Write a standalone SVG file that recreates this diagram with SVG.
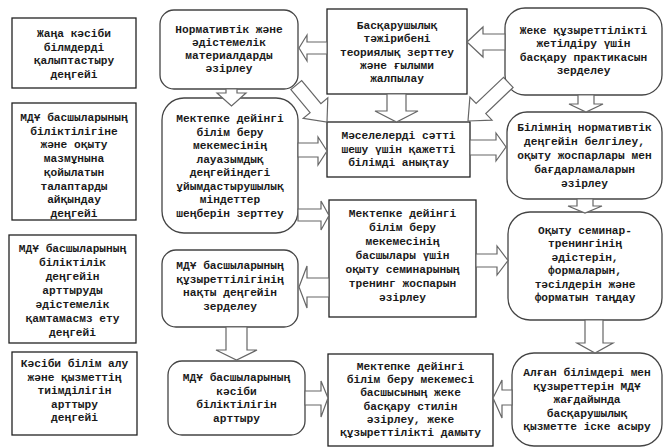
<svg xmlns="http://www.w3.org/2000/svg" width="665" height="448" viewBox="0 0 665 448">
<style>
.bg{fill:#fff}
.sq{fill:#fff;stroke:#222;stroke-width:1.3}
.rd{fill:#fff;stroke:#444;stroke-width:1.3}
.ar{fill:#fff;stroke:#666;stroke-width:1.2;stroke-linejoin:miter}
.t{font-family:"Liberation Mono","Courier New",monospace;font-size:11.2px;font-weight:bold;fill:#1a1a1a;text-anchor:middle}
</style>
<rect class="bg" x="0" y="0" width="665" height="448"/>
<g id="n1"><rect class="sq" x="12" y="18" width="124" height="70"/>
<text class="t" y="37"><tspan x="74">Жаңа кәсіби</tspan><tspan x="74" dy="13.67">білмдерді</tspan><tspan x="74" dy="13.67">қалыптастыру</tspan><tspan x="74" dy="13.67">деңгейі</tspan></text></g>
<g id="n2"><rect class="sq" x="12" y="103" width="124" height="117"/>
<text class="t" y="121"><tspan x="74">МДҰ басшыларының</tspan><tspan x="74" dy="13.71">біліктілігіне</tspan><tspan x="74" dy="13.71">және оқыту</tspan><tspan x="74" dy="13.71">мазмұнына</tspan><tspan x="74" dy="13.71">қойылатын</tspan><tspan x="74" dy="13.71">талаптарды</tspan><tspan x="74" dy="13.71">айқындау</tspan><tspan x="74" dy="13.71">деңгейі</tspan></text></g>
<g id="n3"><rect class="sq" x="9" y="235" width="127" height="108"/>
<text class="t" y="252"><tspan x="72.5">МДҰ басшыларының</tspan><tspan x="72.5" dy="14">біліктілік</tspan><tspan x="72.5" dy="14">деңгейін</tspan><tspan x="72.5" dy="14">арттыруды</tspan><tspan x="72.5" dy="14">әдістемелік</tspan><tspan x="72.5" dy="14">қамтамасмз ету</tspan><tspan x="72.5" dy="14">деңгейі</tspan></text></g>
<g id="n4"><rect class="sq" x="12" y="352" width="125" height="83"/>
<text class="t" y="367"><tspan x="74.5">Кәсіби білім алу</tspan><tspan x="74.5" dy="13.5">және қызметтің</tspan><tspan x="74.5" dy="13.5">тиімділігін</tspan><tspan x="74.5" dy="13.5">арттыру</tspan><tspan x="74.5" dy="13.5">деңгейі</tspan></text></g>
<g id="nA"><rect class="rd" x="160" y="10" width="138" height="79" rx="14"/>
<text class="t" y="33"><tspan x="229">Нормативтік және</tspan><tspan x="229" dy="13">әдістемелік</tspan><tspan x="229" dy="13">материалдарды</tspan><tspan x="229" dy="13">әзірлеу</tspan></text></g>
<g id="nB"><rect class="rd" x="162" y="98" width="136" height="135" rx="22"/>
<text class="t" y="122"><tspan x="230">Мектепке дейінгі</tspan><tspan x="230" dy="13.57">білім беру</tspan><tspan x="230" dy="13.57">мекемесінің</tspan><tspan x="230" dy="13.57">лауазымдық</tspan><tspan x="230" dy="13.57">деңгейіндегі</tspan><tspan x="230" dy="13.57">ұйымдастырушылық</tspan><tspan x="230" dy="13.57">міндеттер</tspan><tspan x="230" dy="13.57">шеңберін зерттеу</tspan></text></g>
<g id="nC"><rect class="rd" x="162" y="250" width="136" height="77" rx="14"/>
<text class="t" y="269"><tspan x="230">МДҰ басшыларының</tspan><tspan x="230" dy="13.67">құзыреттілігінің</tspan><tspan x="230" dy="13.67">нақты деңгейін</tspan><tspan x="230" dy="13.67">зерделеу</tspan></text></g>
<g id="nD"><rect class="rd" x="168" y="361" width="137" height="74" rx="14"/>
<text class="t" y="381"><tspan x="236.5">МДҰ басшыларының</tspan><tspan x="236.5" dy="13.67">кәсіби</tspan><tspan x="236.5" dy="13.67">біліктілігін</tspan><tspan x="236.5" dy="13.67">арттыру</tspan></text></g>
<g id="nE"><rect class="sq" x="327" y="9" width="140" height="85"/>
<text class="t" y="29"><tspan x="397">Басқарушылық</tspan><tspan x="397" dy="13.25">тәжірибені</tspan><tspan x="397" dy="13.25">теориялық зерттеу</tspan><tspan x="397" dy="13.25">және ғылыми</tspan><tspan x="397" dy="13.25">жалпылау</tspan></text></g>
<g id="nF"><rect class="sq" x="327" y="122" width="143" height="55"/>
<text class="t" y="139"><tspan x="398.5">Мәселелерді сәтті</tspan><tspan x="398.5" dy="13.5">шешу үшін қажетті</tspan><tspan x="398.5" dy="13.5">білімді анықтау</tspan></text></g>
<g id="nG"><rect class="sq" x="329" y="200" width="147" height="117"/>
<text class="t" y="217"><tspan x="402.5">Мектепке дейінгі</tspan><tspan x="402.5" dy="14">білім беру</tspan><tspan x="402.5" dy="14">мекемесінің</tspan><tspan x="402.5" dy="14">басшылары үшін</tspan><tspan x="402.5" dy="14">оқыту семинарының</tspan><tspan x="402.5" dy="14">тренинг жоспарын</tspan><tspan x="402.5" dy="14">әзірлеу</tspan></text></g>
<g id="nH"><rect class="sq" x="328" y="354" width="165" height="92"/>
<text class="t" y="370"><tspan x="410.5">Мектепке дейінгі</tspan><tspan x="410.5" dy="13.2">білім беру мекемесі</tspan><tspan x="410.5" dy="13.2">басшысының жеке</tspan><tspan x="410.5" dy="13.2">басқару стилін</tspan><tspan x="410.5" dy="13.2">әзірлеу, жеке</tspan><tspan x="410.5" dy="13.2">құзыреттілікті дамыту</tspan></text></g>
<g id="nI"><rect class="rd" x="505" y="8" width="157" height="87" rx="20"/>
<text class="t" y="34"><tspan x="583.5">Жеке құзыреттілікті</tspan><tspan x="583.5" dy="13.33">жетілдіру үшін</tspan><tspan x="583.5" dy="13.33">басқару практикасын</tspan><tspan x="583.5" dy="13.33">зерделеу</tspan></text></g>
<g id="nJ"><rect class="rd" x="507" y="112" width="155" height="87" rx="20"/>
<text class="t" y="131"><tspan x="584.5">Білімнің нормативтік</tspan><tspan x="584.5" dy="14">деңгейін белгілеу,</tspan><tspan x="584.5" dy="14">оқыту жоспарлары мен</tspan><tspan x="584.5" dy="14">бағдарламаларын</tspan><tspan x="584.5" dy="14">әзірлеу</tspan></text></g>
<g id="nK"><rect class="rd" x="508" y="212" width="154" height="108" rx="22"/>
<text class="t" y="234"><tspan x="585">Оқыту семинар-</tspan><tspan x="585" dy="13.4">тренингінің</tspan><tspan x="585" dy="13.4">әдістерін,</tspan><tspan x="585" dy="13.4">формаларын,</tspan><tspan x="585" dy="13.4">тәсілдерін және</tspan><tspan x="585" dy="13.4">форматын таңдау</tspan></text></g>
<g id="nL"><rect class="rd" x="512" y="353" width="150" height="93" rx="22"/>
<text class="t" y="376"><tspan x="587">Алған білімдері мен</tspan><tspan x="587" dy="13.5">құзыреттерін МДҰ</tspan><tspan x="587" dy="13.5">жағдайында</tspan><tspan x="587" dy="13.5">басқарушылық</tspan><tspan x="587" dy="13.5">қызметте іске асыру</tspan></text></g>
<g id="connectors">
<polygon class="ar" points="505,34 483,34 483,27 467,42 483,57 483,50 505,50"/>
<polygon class="ar" points="327,42 307,42 307,35 299,48 307,61 307,54 327,54"/>
<polygon class="ar" points="226,89 226,93 217,93 231.5,106 246,93 237,93 237,89"/>
<polygon class="ar" points="387,94 387,111 375,111 396.5,122 418,111 406,111 406,94"/>
<polygon class="ar" points="301.7,80.6 320.9,103.7 327.8,97.9 327,122 303.2,118.4 310.1,112.7 290.9,89.6"/>
<polygon class="ar" points="503.5,77.4 476.1,103.5 469.9,97.1 468,121 492,120.1 485.8,113.6 513.1,87.4"/>
<polygon class="ar" points="298,143 318,143 318,137 327,151 318,165 318,157 298,157"/>
<polygon class="ar" points="470,140 496,140 496,133 506,147 496,161 496,155 470,155"/>
<polygon class="ar" points="578,95 578,104 569,104 586,112 603,104 594,104 594,95"/>
<polygon class="ar" points="298,209 321,209 321,201 329,215.5 321,230 321,221 298,221"/>
<polygon class="ar" points="577,199 577,206 568,206 585,213 602,206 593,206 593,199"/>
<polygon class="ar" points="476,254 497,254 497,246 508,260.5 497,275 497,267 476,267"/>
<polygon class="ar" points="329,278 307,278 307,266 299,287 307,308 307,297 329,297"/>
<polygon class="ar" points="226,327 226,350 216,350 236.5,360 257,350 247,350 247,327"/>
<polygon class="ar" points="585,320 585,343 577,343 595,353 613,343 603,343 603,320"/>
<polygon class="ar" points="305,391 321,391 321,381 328,398 321,417 321,405 305,405"/>
<polygon class="ar" points="512,390 502,390 502,380 493,398 502,418 502,405 512,405"/>
</g>
</svg>
